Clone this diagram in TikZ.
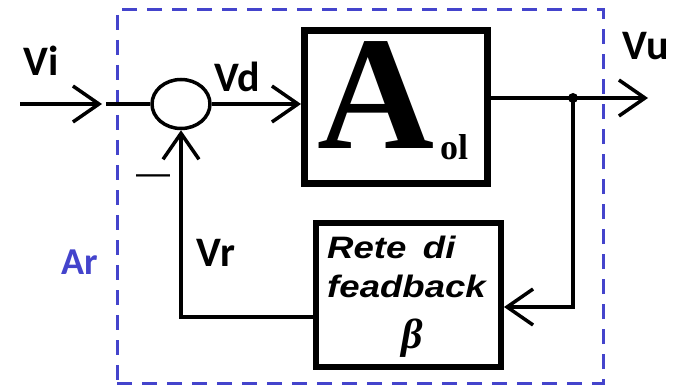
\documentclass[tikz,border=0pt]{standalone}
\usepackage{fontspec}
\setmainfont{Liberation Serif}
\newfontfamily\carl{Carlito}
\newfontfamily\lsans{Liberation Sans}
\usetikzlibrary{arrows.meta,shapes.geometric}
\definecolor{dashblue}{RGB}{68,68,204}
\begin{document}
\begin{tikzpicture}[x=1pt,y=-1pt,
  conn/.style={line width=3.5pt},
  arr/.style={conn,-{Straight Barb[length=26pt,width=36pt]}},
  blk/.style={draw,rectangle,inner sep=0pt},
  lbl/.style={font=\carl\bfseries\fontsize{42}{42}\selectfont,inner sep=0pt},
  fbtxt/.style={anchor=base west,font=\lsans\bfseries\itshape\fontsize{31}{31}\selectfont,inner sep=0pt,xscale=1.18},
]
\useasboundingbox (0,0) rectangle (677,385);
\node[draw=dashblue,dash pattern=on 15pt off 10pt,line width=3pt,rectangle,minimum width=486pt,minimum height=373pt,inner sep=0pt] (ar) at (360,196.5) {};
\node[ellipse,draw,line width=3.5pt,minimum width=58pt,minimum height=49pt,inner sep=0pt] (sum) at (181,104) {};
\node[blk,line width=7pt,minimum width=183pt,minimum height=153pt] (A) at (396,107) {};
\node[blk,line width=6pt,minimum width=185pt,minimum height=144pt] (fb) at (408.5,295) {};
% texts
\node[anchor=base,font=\bfseries\fontsize{162}{162}\selectfont,inner sep=0pt] (Atxt) at (376,148) {A};
\node[anchor=base west,font=\bfseries\fontsize{36}{36}\selectfont,inner sep=0pt] (ol) at (440,160) {ol};
\node[fbtxt] (t1) at (327,258) {Rete\hspace{0.45em}di};
\node[fbtxt] (t2) at (327,297) {feadback};
\node[font=\bfseries\itshape\fontsize{42}{42}\selectfont,inner sep=0pt] (beta) at (412,338) {β};
\node[lbl] (vi) at (41,61) {Vi};
\node[lbl] (vd) at (237,77) {Vd};
\node[lbl] (vu) at (646,46) {Vu};
\node[lbl] (vr) at (216,253) {Vr};
\node[lbl,text=dashblue,font=\carl\bfseries\fontsize{38}{38}\selectfont] (arl) at (80,262) {Ar};
\node[font=\lsans\fontsize{34}{34}\selectfont,inner sep=0pt] (minus) at (153,180) {—};
% connectors
\coordinate (vin) at (20,104);
\coordinate (tip1) at (102,104);
\coordinate (cont) at (106,104);
\draw[arr] (vin) -- (tip1);
\draw[conn] (cont) -- (sum.west);
\draw[arr] (sum.east) -- (sum.east -| A.west);
\coordinate (jun) at (573,98);
\coordinate (vout) at (648,98);
\draw[arr] (A.east |- jun) -- (vout);
\fill (jun) circle (5pt);
\coordinate (fbin) at ([yshift=-12pt]fb.east);
\draw[arr] (jun) |- (fbin);
\coordinate (fbout) at ([yshift=-22pt]fb.west);
\draw[arr] (fbout) -| (sum.south);
\end{tikzpicture}
\end{document}
